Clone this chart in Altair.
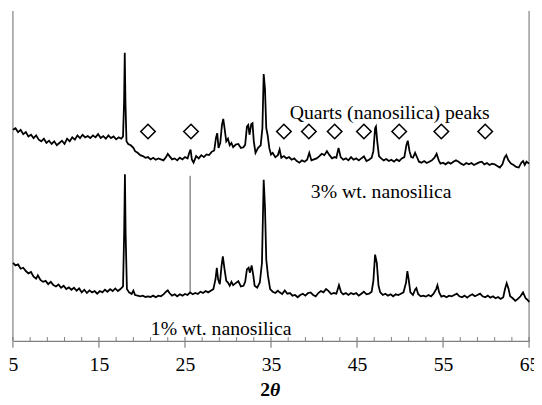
import altair as alt
import pandas as pd

# ---- data (intensity in arbitrary units) ----
theta_top = [5.0,5.3,5.6,5.9,6.2,6.5,6.8,7.1,7.4,7.7,8.0,8.3,8.6,8.9,9.2,9.5,9.8,10.1,10.4,10.7,
             11.0,11.3,11.6,11.9,12.2,12.5,12.8,13.1,13.4,13.7,14.0,14.3,14.6,14.9,15.2,15.5,15.8,16.1,16.4,16.7,
             17.0,17.3,17.6,17.8,17.92,18.0,18.08,18.2,18.4,18.7,19.0,19.2,19.5,19.8,20.1,20.4,20.7,21.0,21.3,21.6,
             21.9,22.2,22.5,22.8,23.0,23.2,23.5,23.8,24.1,24.4,24.7,25.0,25.3,25.5,25.65,25.8,26.0,26.3,26.6,26.9,
             27.2,27.5,27.8,28.1,28.4,28.6,28.75,28.9,29.1,29.3,29.45,29.6,29.8,30.0,30.2,30.4,30.6,30.9,31.2,31.5,
             31.8,32.0,32.2,32.35,32.5,32.7,32.85,33.0,33.2,33.5,33.8,34.0,34.15,34.3,34.45,34.6,34.8,35.0,35.2,35.5,
             35.8,36.0,36.2,36.5,36.8,37.1,37.4,37.7,38.0,38.3,38.6,38.9,39.2,39.45,39.7,40.0,40.3,40.6,40.9,41.2,
             41.5,41.8,42.1,42.4,42.6,42.85,43.1,43.4,43.7,44.0,44.3,44.6,44.9,45.2,45.5,45.8,46.1,46.4,46.7,46.9,
             47.1,47.2,47.35,47.55,47.8,48.1,48.4,48.7,49.0,49.3,49.6,49.9,50.2,50.5,50.75,50.9,51.1,51.3,51.5,51.75,
             52.0,52.2,52.5,52.8,53.1,53.4,53.7,54.0,54.25,54.5,54.7,55.0,55.3,55.6,55.9,56.2,56.5,56.8,57.1,57.4,
             57.7,58.0,58.3,58.6,58.9,59.2,59.5,59.8,60.1,60.4,60.7,61.0,61.3,61.6,61.9,62.15,62.35,62.6,62.9,63.2,
             63.5,63.8,64.1,64.3,64.5,64.7,65.0]
inten_top = [643,648,636,643,630,636,623,628,618,626,613,608,616,603,610,600,608,596,603,610,
             600,616,608,620,613,626,618,628,620,624,618,626,620,630,618,624,616,626,618,623,
             614,620,616,623,728,878,728,608,600,596,588,578,573,566,563,558,560,553,558,552,
             556,553,550,560,570,563,553,556,550,558,553,560,556,573,583,553,543,563,556,566,
             560,568,566,576,580,618,633,588,603,658,676,648,608,616,596,603,590,598,600,588,
             590,598,653,658,628,660,663,608,573,588,596,648,813,768,648,628,588,568,573,560,
             566,583,558,563,556,560,552,556,548,543,550,546,552,573,550,553,556,562,570,566,
             578,566,556,560,558,588,560,552,556,550,560,552,556,550,556,562,548,552,558,578,
             648,653,608,563,556,550,554,548,552,546,553,548,556,560,598,610,578,560,558,573,
             558,546,543,548,542,546,550,558,570,550,540,543,538,544,540,546,550,546,540,536,
             542,538,542,536,540,544,546,538,542,536,540,538,533,528,538,558,566,550,540,536,
             530,528,543,548,536,546,540]

theta_bot = [5.0,5.3,5.6,5.9,6.2,6.5,6.8,7.1,7.4,7.7,7.9,8.2,8.5,8.8,9.1,9.4,9.7,10.0,10.3,10.6,
             10.9,11.2,11.5,11.8,12.1,12.4,12.7,13.0,13.3,13.6,13.9,14.2,14.5,14.8,15.1,15.4,15.7,16.0,16.3,16.6,
             16.9,17.2,17.5,17.8,17.93,18.02,18.1,18.25,18.5,18.8,19.0,19.2,19.5,19.8,20.1,20.4,20.7,21.0,21.3,21.6,
             21.9,22.2,22.5,22.8,23.0,23.2,23.5,23.8,24.1,24.4,24.7,25.0,25.3,25.6,25.9,26.2,26.5,26.8,27.1,27.4,
             27.7,28.0,28.3,28.55,28.7,28.85,29.05,29.25,29.4,29.6,29.8,30.0,30.2,30.4,30.6,30.9,31.2,31.5,31.8,32.0,
             32.2,32.4,32.55,32.75,32.95,33.1,33.4,33.7,33.95,34.15,34.3,34.45,34.65,34.9,35.2,35.5,35.8,36.0,36.3,36.6,
             36.9,37.2,37.5,37.8,38.1,38.4,38.7,39.0,39.3,39.6,39.9,40.2,40.5,40.8,41.1,41.4,41.7,42.0,42.3,42.6,
             42.9,43.15,43.4,43.7,44.0,44.3,44.6,44.9,45.2,45.5,45.8,46.1,46.4,46.7,46.9,47.1,47.3,47.5,47.7,48.0,
             48.3,48.6,48.9,49.2,49.5,49.8,50.1,50.4,50.7,50.85,51.0,51.2,51.5,51.75,51.9,52.1,52.4,52.7,53.0,53.3,
             53.6,53.9,54.2,54.35,54.55,54.8,55.1,55.4,55.7,56.0,56.3,56.6,56.9,57.2,57.5,57.8,58.1,58.4,58.7,59.0,
             59.3,59.6,59.9,60.2,60.5,60.8,61.1,61.4,61.7,62.0,62.2,62.4,62.6,62.8,63.1,63.4,63.7,64.0,64.3,64.6,
             64.9,65.0]
inten_bot = [238,230,233,220,223,213,206,210,196,190,200,186,180,183,173,180,170,166,172,162,
             168,158,163,156,162,153,160,148,156,146,154,148,152,144,152,148,156,150,158,152,
             160,152,158,166,328,508,328,158,148,143,153,140,138,136,138,134,136,134,138,133,
             138,136,142,150,154,146,138,142,136,142,138,143,140,148,142,146,143,150,146,152,
             148,153,158,188,223,188,173,228,258,218,183,178,168,180,170,176,182,166,168,180,
             218,223,208,230,198,168,162,178,238,491,408,248,198,158,150,146,153,148,143,154,
             144,146,138,140,133,140,144,138,146,148,140,136,146,152,148,158,152,143,146,144,
             170,148,142,146,140,146,142,146,138,144,150,142,144,150,183,263,238,168,148,140,
             144,138,142,136,142,140,144,148,178,213,188,148,140,156,161,143,136,138,135,140,
             136,144,158,170,148,135,138,133,138,136,140,144,136,133,138,132,138,142,136,140,
             144,136,133,138,132,136,130,134,128,133,158,176,160,136,130,122,128,136,148,130,
             123,118]

diamond_theta = [20.7, 25.7, 36.5, 39.4, 42.4, 45.8, 49.9, 54.8, 59.9]
diamond_level = [638] * len(diamond_theta)

marker_theta = [25.6]
marker_low = [143]
marker_high = [503]

label_text = ["Quarts (nanosilica) peaks", "3% wt. nanosilica", "1% wt. nanosilica"]
label_theta = [48.8, 47.8, 29.2]
label_level = [676, 436, 18]

major_ticks = [5, 15, 25, 35, 45, 55, 65]
minor_ticks = [v for v in range(7, 65, 2) if v not in major_ticks]
frame_theta = [5, 65]

# ---- chart ----
W, H = 524, 335
FONT = "Liberation Serif"
GRAY = "#808080"

xs = alt.Scale(domain=[5, 65], nice=False, zero=False)
ys = alt.Scale(domain=[0, 1005], nice=False, zero=False)

x_axis = alt.Axis(values=major_ticks, format="d", ticks=False, grid=False,
                  domainColor=GRAY, domainWidth=1.2, labelFont=FONT, labelFontSize=20,
                  labelColor="black", labelPadding=14, labelFlush=False, title=None)


def X(field):
    return alt.X(field, type="quantitative", scale=xs, axis=x_axis)


def Y(field):
    return alt.Y(field, type="quantitative", scale=ys, axis=None)


df_top = pd.DataFrame({"theta": theta_top, "I": inten_top})
df_bot = pd.DataFrame({"theta": theta_bot, "I": inten_bot})

top_line = alt.Chart(df_top).mark_line(color="black", strokeWidth=1.8).encode(x=X("theta"), y=Y("I"))
bot_line = alt.Chart(df_bot).mark_line(color="black", strokeWidth=1.8).encode(x=X("theta"), y=Y("I"))

diamonds = alt.Chart(pd.DataFrame({"theta": diamond_theta, "I": diamond_level})).mark_point(
    shape="diamond", filled=False, size=215, color="black", strokeWidth=1.6, opacity=1
).encode(x=X("theta"), y=Y("I"))

marker = alt.Chart(pd.DataFrame({"theta": marker_theta, "lo": marker_low, "hi": marker_high})).mark_rule(
    color="#555555", strokeWidth=1
).encode(x=X("theta"), y=Y("lo"), y2="hi")

labels = alt.Chart(pd.DataFrame({"theta": label_theta, "I": label_level, "t": label_text})).mark_text(
    font=FONT, fontSize=20, color="black", align="center", baseline="alphabetic"
).encode(x=X("theta"), y=Y("I"), text="t:N")

frame = alt.Chart(pd.DataFrame({"theta": frame_theta})).mark_rule(color=GRAY, strokeWidth=1.2).encode(
    x=X("theta"), y=alt.value(0), y2=alt.value(H)
)
major = alt.Chart(pd.DataFrame({"theta": major_ticks})).mark_rule(color=GRAY, strokeWidth=1.2).encode(
    x=X("theta"), y=alt.value(H - 4), y2=alt.value(H + 7)
)
minor = alt.Chart(pd.DataFrame({"theta": minor_ticks})).mark_rule(color=GRAY, strokeWidth=1).encode(
    x=X("theta"), y=alt.value(H - 4), y2=alt.value(H)
)

title_df = pd.DataFrame({"theta": [35], "t2": ["2"], "tt": ["θ"]})
title_two = alt.Chart(title_df).mark_text(
    font=FONT, fontSize=20, fontWeight="bold", align="right", baseline="middle", color="black", dx=-1
).encode(text="t2:N", x=X("theta"), y=alt.value(H + 50))
title_theta = alt.Chart(title_df).mark_text(
    font=FONT, fontSize=20, fontWeight="bold", fontStyle="italic", align="left", baseline="middle",
    color="black", dx=-1
).encode(text="tt:N", x=X("theta"), y=alt.value(H + 50))

chart = alt.layer(
    frame, major, minor, marker, top_line, bot_line, diamonds, labels, title_two, title_theta
).properties(
    width=W, height=H,
    autosize=alt.AutoSizeParams(type="none"),
    padding={"left": 5, "top": 0, "right": 5, "bottom": 62},
    background="white",
).configure_view(stroke=None)

chart.save("out.html", embed_options={"renderer": "svg", "actions": False})
